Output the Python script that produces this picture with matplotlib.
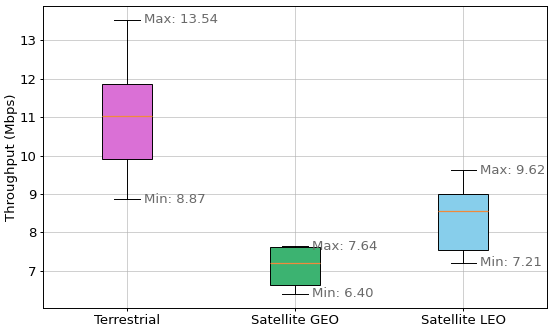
import matplotlib
matplotlib.use("Agg")
import matplotlib.pyplot as plt

# network types and their throughput summary (Mbps)
labels = ["Terrestrial", "Satellite GEO", "Satellite LEO"]
mins = [8.87, 6.40, 7.21]
q1s = [9.92, 6.64, 7.54]
medians = [11.03, 7.21, 8.57]
q3s = [11.87, 7.63, 9.00]
maxs = [13.54, 7.64, 9.62]
colors = ["orchid", "mediumseagreen", "skyblue"]

stats = []
for i in range(len(labels)):
    stats.append({"label": labels[i], "whislo": mins[i], "q1": q1s[i],
                  "med": medians[i], "q3": q3s[i], "whishi": maxs[i],
                  "fliers": []})

plt.rcParams["font.size"] = 9.5
fig, ax = plt.subplots(figsize=(5.5, 3.28), dpi=100)
lw = 0.7
bp = ax.bxp(stats, patch_artist=True, widths=0.3,
            boxprops=dict(linewidth=lw),
            whiskerprops=dict(linewidth=lw),
            capprops=dict(linewidth=lw),
            medianprops=dict(linewidth=0.9, color="#f08a3c"))
for patch, c in zip(bp["boxes"], colors):
    patch.set_facecolor(c)

# label whisker ends
for i in range(len(labels)):
    ax.text(i + 1.1, maxs[i], f"Max: {maxs[i]:.2f}", va="center", ha="left",
            fontsize=9.5, color="dimgray")
    ax.text(i + 1.1, mins[i], f"Min: {mins[i]:.2f}", va="center", ha="left",
            fontsize=9.5, color="dimgray")

ax.set_ylabel("Throughput (Mbps)", labelpad=1)
ax.grid(True, alpha=0.7, linewidth=0.6)
for s in ax.spines.values():
    s.set_linewidth(0.7)
ax.tick_params(width=0.7, length=2.5, pad=2)
plt.subplots_adjust(left=0.078, right=0.995, top=0.982, bottom=0.062)
plt.savefig("out.png")
